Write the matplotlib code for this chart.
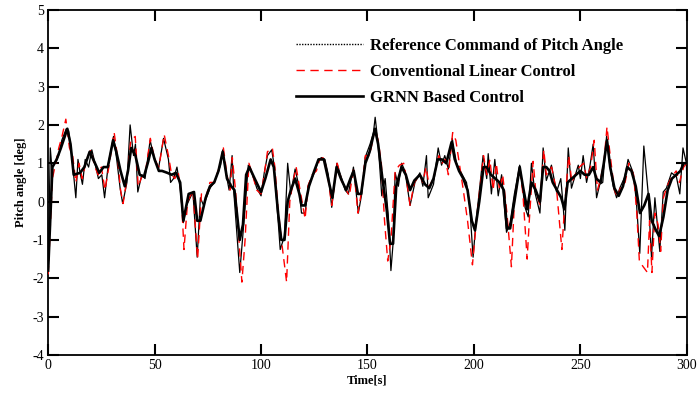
import matplotlib
matplotlib.use("Agg")
import matplotlib.pyplot as plt
from matplotlib.lines import Line2D

# Reference command of pitch angle (thin black)
t_ref = [0, 1, 1.7, 3.3, 4.9, 6.4, 8.5, 9.6, 11.1, 13, 14, 15, 16.1, 17.4, 19, 20.5, 22, 23.6, 25.2, 26.5,
         28.3, 29.9, 30.7, 32.2, 33.8, 35, 37, 38.5, 40.1, 41, 42.1, 44, 45.5, 47.9, 49.5, 51.8, 54.2, 56.5,
         57.5, 58.9, 60.5, 62, 63.5, 65, 68, 70, 71.5, 73, 76, 78, 81, 82, 83.5, 85, 86.4, 87.2, 90, 92, 94,
         96, 98, 100, 101.5, 103, 105, 106, 107.5, 109, 111, 112.5, 114, 116, 117.6, 119, 120.7, 122.3,
         123.8, 125.4, 127, 128.5, 130, 131.6, 133.2, 135.6, 137.9, 139.5, 141, 143.4, 145.7, 147.3, 148.9,
         151.2, 152.8, 153.6, 155, 156.7, 158.3, 159.8, 161, 162, 163, 164.5, 166, 167.6, 170, 172.3, 174.6,
         176, 177.7, 178.5, 181, 183.2, 184.8, 186.3, 188, 189.8, 191.8, 195, 196.5, 198, 199.6, 201, 202,
         204.3, 206, 206.7, 208.2, 209.8, 211.4, 213, 215.3, 217, 219, 221.5, 224, 225.5, 227, 228.6, 231,
         232.5, 234, 236.4, 238.8, 240.8, 241.9, 242.7, 244.3, 245.8, 247.4, 249, 250, 251.3, 252.9, 254.4,
         256, 257.6, 259.1, 260.5, 262.3, 263.8, 265.4, 267, 268.5, 270.9, 272.4, 274.8, 276.3, 277.9,
         279.8, 281.8, 283.4, 285, 286.5, 287.3, 288.9, 290.4, 292.8, 295.1, 296.7, 298.2, 299.8, 300]
v_ref = [-1.85, 1.4, 0.9, 1.0, 1.2, 1.6, 1.9, 1.85, 1.2, 0.1, 1.1, 0.75, 0.45, 1.1, 0.9, 1.35, 1.0, 0.6, 0.7, 0.1,
         1.0, 1.45, 1.7, 1.1, 0.35, -0.05, 0.5, 2.0, 1.2, 1.5, 0.25, 0.7, 0.6, 1.6, 1.2, 0.85, 1.65, 1.1,
         0.5, 0.6, 0.9, 0.35, -0.55, -0.1, 0.25, -1.45, 0.1, -0.1, 0.35, 0.5, 0.95, 1.35, 0.75, 0.3, 1.2, 0.25, -1.85, -0.5, 0.95,
         0.7, 0.35, 0.15, 0.75, 1.2, 1.35, 1.0, -0.1, -1.25, -0.9, 1.0, 0.2, 0.85, 0.45, -0.3, -0.3, 0.45,
         0.6, 0.8, 1.1, 1.15, 1.1, 0.7, -0.15, 1.0, 0.6, 0.3, 0.2, 0.9, -0.3, 0.2, 1.15,
         1.5, 1.8, 2.2, 1.5, 0.15, 0.6, -0.4, -1.8, -1.1, 0.75, 0.4, 1.0, 0.8, -0.1, 0.5, 0.75,
         0.4, 1.2, 0.1, 0.45, 1.4, 0.95, 1.2, 0.85, 1.65, 1.0, 0.65, 0.5, -0.1, -1.45, -0.5, 0.0,
         1.2, 0.6, 1.25, 0.2, 1.1, 0.15, 0.7, -0.8, -0.55, 0.2, 0.95, -0.15, -0.4, 1.0, 0.25, -0.3,
         1.4, 0.55, 0.95, 0.25, 0.6, -0.1, -0.75, 1.4, 0.35, 0.65, 0.95, 0.6, 1.2, 0.5, 0.9,
         1.5, 0.1, 0.45, 0.5, 1.7, 0.95, 0.4, 0.1, 0.35, 0.65, 1.1, 0.75, 0.0, -1.35,
         1.45, 0.25, -1.45, 0.1, -0.8, -1.3, 0.25, 0.35, 0.75, 0.65, 0.2, 1.4, 1.0, 0.5]

# Conventional linear control (red dashed)
t_conv = [0, 2, 3.5, 5, 6.5, 8.3, 10, 11.5, 13, 14.5, 16, 18, 20, 22, 23.5, 25, 26.7, 28.5, 31, 32.5, 34, 35.2,
          37, 38.8, 40.9, 42.3, 44, 45.5, 48, 50, 52, 54.5, 56.5, 58, 59.5, 61, 62.5, 63.8, 65.5, 68, 70.2,
          72, 74, 76, 78, 81, 82.3, 84, 85.5, 86.5, 88, 91, 92.5, 94.3, 96, 98, 100, 101.5, 103, 105.3,
          106.5, 108, 110, 112, 113.5, 115, 116.5, 118, 120.7, 122, 124, 126, 127.5, 129.5, 131.5, 133.2,
          135.8, 138, 140, 141.5, 143.5, 145.5, 147.3, 149, 151, 153.5, 155, 156.5, 158, 159.5, 161, 163,
          165, 167, 168, 170, 172, 174.6, 176, 177.5, 179, 181, 183.5, 185, 186.5, 188, 190, 191.5, 195,
          197, 199.3, 201, 202.5, 204.5, 206, 207.5, 209, 210.5, 212, 213.5, 215.5, 217.6, 219, 221.5, 223,
          225, 226, 227.8, 229, 231, 232.8, 234, 236.5, 239, 241.3, 242.5, 244.5, 246, 247.5, 249.5, 251.5,
          253, 254.8, 256.5, 258, 259.5, 261, 262.5, 264, 266, 267.5, 269, 271, 272.8, 275, 276.5, 277.7,
          279.5, 281.5, 282.5, 283.6, 285, 286.5, 287.7, 289, 290.7, 293, 295, 296.5, 298.5, 300]
v_conv = [-1.9, 0.6, 1.0, 1.4, 1.7, 2.15, 1.4, 1.2, 0.5, 1.0, 0.6, 1.1, 1.35, 0.9, 0.7, 0.9, 0.3, 0.9, 1.8, 1.2, 0.3, -0.05,
          0.6, 1.6, 1.7, 0.4, 0.65, 0.7, 1.65, 1.1, 0.9, 1.75, 1.2, 0.7, 0.6, 0.8, 0.2, -1.25, 0.0, 0.3, -1.5,
          0.2, 0.1, 0.5, 0.5, 1.0, 1.4, 0.7, 0.3, 1.15, 0.3, -2.1, -1.0, 1.0, 0.7, 0.3, 0.2, 0.7, 1.3, 1.4,
          0.9, -0.2, -1.2, -2.1, 0.0, 0.5, 0.9, 0.4, -0.45, 0.4, 0.7, 0.8, 1.1, 1.15, 0.6, -0.1,
          1.0, 0.5, 0.3, 0.15, 0.9, -0.3, 0.3, 1.2, 1.2, 1.9, 1.6, 1.0, -0.5, -1.55, -1.0, 0.8,
          0.95, 1.0, 0.7, -0.1, 0.5, 0.7, 0.5, 0.9, 0.4, 0.6, 1.2, 1.0, 1.1, 0.7, 1.8, 1.6, 0.3,
          -0.5, -1.65, -0.6, 0.2, 1.2, 0.7, 1.1, 0.3, 1.0, 0.3, 0.7, -0.3, -1.7, 0.0, 0.9, 0.2,
          -1.5, -0.5, 1.05, 0.3, -0.1, 1.35, 0.7, 0.9, 0.2, -1.25, -0.2, 1.2, 0.5, 0.7, 0.9, 1.0,
          0.6, 0.9, 1.6, 0.3, 0.6, 1.0, 1.95, 1.2, 0.3, 0.1, 0.4, 0.5, 1.0, 0.7, -0.3, -1.55,
          -1.7, -1.85, -0.5, -1.85, -0.3, -0.6, -1.3, 0.1, 0.4, 0.65, 0.8, 0.5, 0.9, 1.0]

# GRNN based control (thick black)
t_grnn = [0, 2, 4, 6, 9, 10.5, 12, 15, 17, 19.5, 22, 24, 26, 28, 30.5, 32, 34, 36, 37.5, 39, 41, 43, 45, 47,
          48.5, 50, 52, 53.5, 56, 58, 60, 62, 63.5, 66, 68.5, 70, 71.5, 74, 76, 78, 80, 82, 84, 86, 87.5, 90,
          91.5, 93, 94.5, 97, 100, 102, 104.5, 106, 108, 109.5, 111, 112.5, 114, 116, 118, 119, 120.7, 122.5,
          125, 127, 129.5, 131.5, 133.5, 135.5, 137.5, 140, 142, 143.5, 145.5, 147, 149, 151, 153.5, 155, 157,
          159, 160.6, 162, 163.5, 166, 168, 170, 172, 174.6, 177, 179, 181, 183, 185, 187, 189.5, 191, 193,
          195, 197, 199, 200.5, 202.5, 204.5, 206, 208, 210, 212, 214, 215.5, 217, 219, 221.5, 223, 225, 227,
          229, 231, 232.5, 234, 235.5, 237, 239, 241, 242.5, 244, 246, 248, 250, 252, 254, 256, 257.5, 259.5,
          261, 262.5, 264, 266, 268, 270, 272, 274, 276, 278, 280, 282, 283.5, 285.5, 287, 289, 291, 293, 295,
          297, 298.5, 300]
v_grnn = [-1.8, 0.9, 1.1, 1.4, 1.9, 1.5, 0.7, 0.75, 0.9, 1.3, 1.0, 0.75, 0.9, 0.9, 1.6, 1.3, 0.8, 0.4, 0.8, 1.4, 1.2, 0.7, 0.65, 1.05,
          1.4, 1.1, 0.8, 0.8, 0.75, 0.7, 0.75, 0.5, -0.5, 0.2, 0.25, -0.5, -0.5, 0.1, 0.4, 0.5, 0.8, 1.3, 0.6, 0.4, 0.3, -1.0,
          -0.6, 0.7, 0.9, 0.6, 0.25, 0.6, 1.1, 0.9, -0.3, -1.0, -1.0, 0.0, 0.3, 0.6, 0.2, -0.1, -0.1, 0.4,
          0.8, 1.1, 1.1, 0.6, 0.1, 0.9, 0.6, 0.3, 0.6, 0.8, 0.2, 0.2, 1.0, 1.3, 1.9, 1.5, 0.6,
          -0.2, -1.1, -1.1, 0.4, 0.9, 0.7, 0.3, 0.55, 0.7, 0.45, 0.35, 0.6, 1.1, 1.1, 1.0, 1.55, 1.1, 0.8,
          0.6, 0.3, -0.5, -0.75, 0.0, 0.9, 0.9, 0.7, 0.6, 0.5, 0.3, -0.7, -0.7, 0.0, 0.9, 0.4, -0.2, 0.5,
          0.3, 0.0, 0.9, 0.9, 0.8, 0.5, 0.3, 0.1, -0.2, 0.5, 0.6, 0.7, 0.8, 0.7, 0.7, 0.9, 0.6, 0.5,
          1.0, 1.6, 0.9, 0.35, 0.15, 0.4, 0.9, 0.8, 0.4, -0.3, -0.1, 0.2, -0.5, -0.75, -0.9, -0.4, 0.3, 0.6, 0.7,
          0.8, 1.0, 1.0]

labels = ["Reference Command of Pitch Angle", "Conventional Linear Control", "GRNN Based Control"]
x_ticks = [0, 50, 100, 150, 200, 250, 300]
y_ticks = [-4, -3, -2, -1, 0, 1, 2, 3, 4, 5]

plt.rcParams['font.family'] = ['Liberation Serif', 'DejaVu Serif']
plt.rcParams['axes.unicode_minus'] = False

fig = plt.figure(figsize=(6.98, 3.97), dpi=100)
ax = fig.add_axes([0.069, 0.106, 0.915, 0.869])

ax.plot(t_ref, v_ref, color='black', lw=0.9, zorder=2)
ax.plot(t_conv, v_conv, color='red', lw=1.0, dashes=(6, 4), zorder=3)
ax.plot(t_grnn, v_grnn, color='black', lw=1.9, zorder=4)

ax.set_xlim(0, 300)
ax.set_ylim(-4, 5)
ax.set_xticks(x_ticks)
ax.set_yticks(y_ticks)
ax.tick_params(direction='in', length=8, width=1.5, top=True, right=True, labelsize=10, pad=3)
for s in ax.spines.values():
    s.set_linewidth(1.3)

ax.set_xlabel("Time[s]", fontsize=9, fontweight='bold', labelpad=2)
ax.set_ylabel("Pitch angle [deg]", fontsize=9, fontweight='bold', labelpad=4)

handles = [Line2D([], [], color='black', lw=1.0, linestyle=(0, (1, 1))),
           Line2D([], [], color='red', lw=1.0, dashes=(6, 4)),
           Line2D([], [], color='black', lw=1.9)]
leg = ax.legend(handles, labels, loc='upper left', bbox_to_anchor=(0.388, 0.918), frameon=False,
                prop={'weight': 'bold', 'size': 12}, handlelength=4.0, handletextpad=0.45,
                labelspacing=0.58, borderaxespad=0, borderpad=0)

fig.savefig("out.png", dpi=100)
